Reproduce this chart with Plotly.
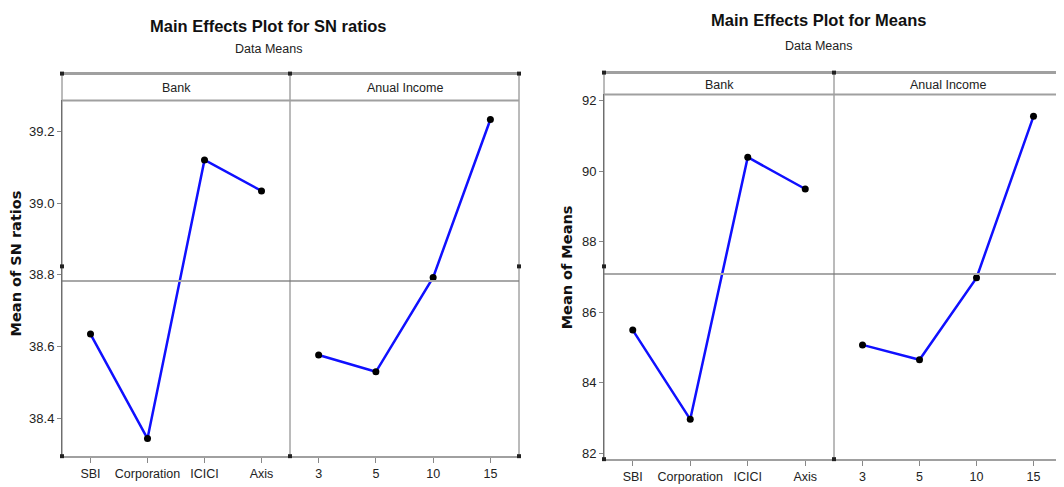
import plotly.graph_objects as go

banks = ["SBI", "Corporation", "ICICI", "Axis"]
incomes = ["3", "5", "10", "15"]
bank_sn = [38.635, 38.344, 39.12, 39.034]
income_sn = [38.577, 38.530, 38.793, 39.233]
bank_means = [85.49, 82.96, 90.39, 89.49]
income_means = [85.07, 84.65, 86.97, 91.55]
panel_titles = ["Bank", "Anual Income"]

# the page body has an 8px margin; figure is sized to fit the window
OFF = 8
W, H = 1056, 479
FONT = "Liberation Sans, Arial, sans-serif"

def fx(px):
    return (px - OFF) / W

def fy(py):
    return 1 - (py - OFF) / H

fig = go.Figure()

charts = [
    dict(x0=62, xm=290, x1=519, top=73, strip=100, bot=458,
         yr=[38.295, 39.286], dtick=0.2, fmt=".1f",
         yb=bank_sn, yi=income_sn, title="Main Effects Plot for SN ratios",
         ty=25, sty=48, tcx=268, ytitle="Mean of SN ratios", ytx=16, yty=264,
         xa=("x", "x2"), ya="y"),
    dict(x0=604, xm=834, x1=1062, top=72, strip=94, bot=461,
         yr=[81.83, 92.17], dtick=2, fmt="d",
         yb=bank_means, yi=income_means, title="Main Effects Plot for Means",
         ty=19, sty=45, tcx=818, ytitle="Mean of Means", ytx=567, yty=268,
         xa=("x3", "x4"), ya="y2"),
]

layout = dict(width=W, height=H, margin=dict(l=0, r=0, t=0, b=0),
              paper_bgcolor="white", plot_bgcolor="white", showlegend=False,
              font=dict(family=FONT, size=13, color="#222"))
shapes = []
annotations = []

for c in charts:
    xa1, xa2 = c["xa"]
    ya = c["ya"]
    yname = "yaxis" if ya == "y" else "yaxis2"
    gm = sum(c["yb"]) / len(c["yb"])
    for xa, cats, vals in [(xa1, banks, c["yb"]), (xa2, incomes, c["yi"])]:
        fig.add_trace(go.Scatter(x=cats, y=vals, xaxis=xa, yaxis=ya,
                                 mode="lines+markers",
                                 line=dict(color="#1010ff", width=2.5),
                                 marker=dict(color="black", size=7),
                                 hoverinfo="skip"))
    for xa, (d0, d1) in [(xa1, (c["x0"], c["xm"])), (xa2, (c["xm"], c["x1"]))]:
        key = "xaxis" if xa == "x" else "xaxis" + xa[1:]
        layout[key] = dict(domain=[fx(d0), fx(d1)], anchor=ya, type="category",
                           range=[-0.5, 3.5], showgrid=False, zeroline=False,
                           showline=True, linecolor="#a0a0a0", linewidth=2,
                           ticks="outside", ticklen=5, tickcolor="#888",
                           tickfont=dict(size=12.5, color="#222", family=FONT),
                           fixedrange=True)
    layout[yname] = dict(domain=[fy(c["bot"]), fy(c["strip"])], anchor=xa1,
                         range=c["yr"], dtick=c["dtick"], tickformat=c["fmt"],
                         showgrid=False, zeroline=False, showline=True,
                         linecolor="#666", linewidth=1, ticks="outside",
                         ticklen=4, tickcolor="#888",
                         tickfont=dict(size=13, color="#222", family=FONT),
                         fixedrange=True)
    # grand mean reference line
    shapes.append(dict(type="line", xref="paper", yref=ya,
                       x0=fx(c["x0"]), x1=fx(c["x1"]), y0=gm, y1=gm,
                       line=dict(color="#a8a8a8", width=2)))
    for xp in (c["x0"], c["xm"], c["x1"]):
        shapes.append(dict(type="line", xref="paper", yref="paper",
                           x0=fx(xp), x1=fx(xp), y0=fy(c["top"]), y1=fy(c["bot"]),
                           line=dict(color="#777", width=1)))
    shapes.append(dict(type="line", xref="paper", yref="paper",
                       x0=fx(c["x0"]), x1=fx(c["x1"]), y0=fy(c["top"]), y1=fy(c["top"]),
                       line=dict(color="#a0a0a0", width=3)))
    shapes.append(dict(type="line", xref="paper", yref="paper",
                       x0=fx(c["x0"]), x1=fx(c["x1"]), y0=fy(c["strip"]), y1=fy(c["strip"]),
                       line=dict(color="#a0a0a0", width=2)))
    for (hx, hy) in [(c["x0"], c["top"]), (c["xm"], c["top"]), (c["x1"], c["top"]),
                     (c["x0"], 267), (c["x1"], 267),
                     (c["x0"], c["bot"]), (c["xm"], c["bot"]), (c["x1"], c["bot"])]:
        shapes.append(dict(type="rect", xref="paper", yref="paper",
                           x0=fx(hx - 2), x1=fx(hx + 2), y0=fy(hy - 2), y1=fy(hy + 2),
                           fillcolor="#222", line=dict(width=0)))
    for (a, b), t in zip([(c["x0"], c["xm"]), (c["xm"], c["x1"])], panel_titles):
        annotations.append(dict(x=fx((a + b) / 2), y=fy((c["top"] + c["strip"]) / 2 + 1),
                                xref="paper", yref="paper", text=t, showarrow=False,
                                font=dict(size=12.5, color="#222", family=FONT),
                                xanchor="center", yanchor="middle"))
    annotations.append(dict(x=fx(c["tcx"]), y=fy(c["ty"]), xref="paper", yref="paper",
                            text="<b>" + c["title"] + "</b>", showarrow=False,
                            font=dict(size=16.5, color="#111", family=FONT),
                            xanchor="center", yanchor="middle"))
    annotations.append(dict(x=fx(c["tcx"]), y=fy(c["sty"]), xref="paper", yref="paper",
                            text="Data Means", showarrow=False,
                            font=dict(size=12.5, color="#222", family=FONT),
                            xanchor="center", yanchor="middle"))
    annotations.append(dict(x=fx(c["ytx"]), y=fy(c["yty"]), xref="paper", yref="paper",
                            text="<b>" + c["ytitle"] + "</b>", showarrow=False,
                            textangle=-90,
                            font=dict(size=14.5, color="#111", family="DejaVu Sans, sans-serif"),
                            xanchor="center", yanchor="middle"))

layout["shapes"] = shapes
layout["annotations"] = annotations
fig.update_layout(**layout)
fig.write_html("out.html")
